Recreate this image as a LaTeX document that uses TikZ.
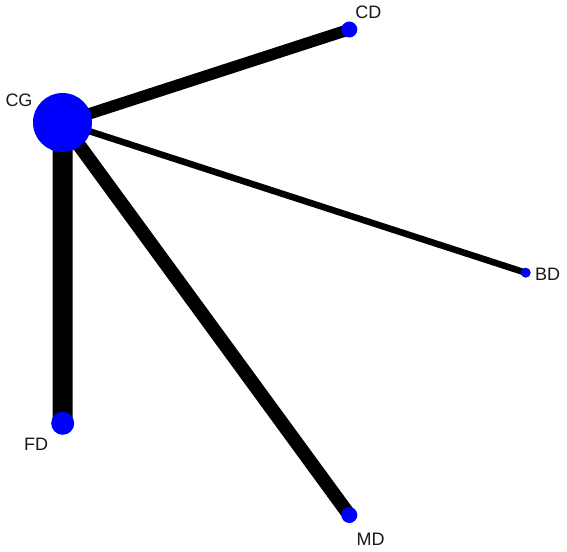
\documentclass[tikz,border=0pt]{standalone}
\usepackage{fontspec}
\setmainfont{Liberation Sans}
\begin{document}
\begin{tikzpicture}[x=1pt,y=-1pt,
  vtx/.style={circle,fill={rgb,255:red,0;green,0;blue,255},draw=none,inner sep=0pt,minimum size=#1},
  edgeline/.style={line width=#1,draw=black},
  lbl/.style={font=\fontsize{18}{18}\selectfont,text=black!90,inner sep=0pt}]
\useasboundingbox[fill=white] (0,0) rectangle (567,551);
\coordinate (cg) at (62.5,122.5);
\coordinate (cd) at (349.3,29.5);
\coordinate (bd) at (525.7,272.7);
\coordinate (fd) at (62.7,423.3);
\coordinate (md) at (349.3,515);
\draw[edgeline=20pt] (cg) -- (fd);
\draw[edgeline=11.5pt] (cg) -- (cd);
\draw[edgeline=6.5pt] (cg) -- (bd);
\draw[edgeline=13.8pt] (cg) -- (md);
\node[vtx=59pt] (CG) at (cg) {};
\node[vtx=16pt] (CD) at (cd) {};
\node[vtx=10pt] (BD) at (bd) {};
\node[vtx=23pt] (FD) at (fd) {};
\node[vtx=16pt] (MD) at (md) {};
\node[lbl] (CGl) at (19,100) {CG};
\node[lbl] (CDl) at (368.3,12.5) {CD};
\node[lbl] (BDl) at (547.5,274) {BD};
\node[lbl] (FDl) at (36,444) {FD};
\node[lbl] (MDl) at (370.5,539) {MD};
\end{tikzpicture}
\end{document}
